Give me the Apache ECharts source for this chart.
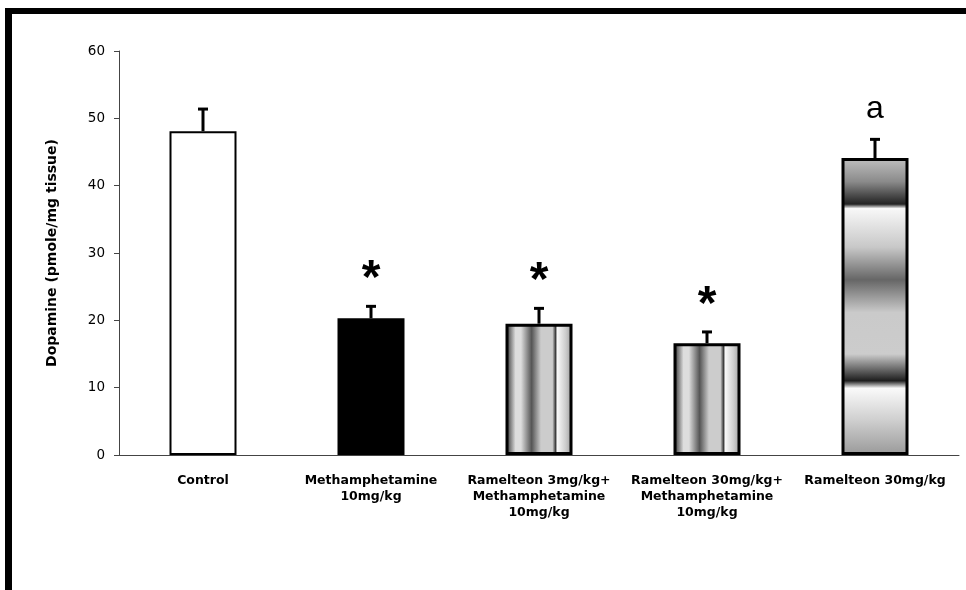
<!DOCTYPE html>
<html>
<head>
<meta charset="utf-8">
<script src="https://cdn.jsdelivr.net/npm/echarts@6/dist/echarts.min.js"></script>
<style>
  html, body { margin: 0; padding: 0; background: #fff; }
  #chart { width: 966px; height: 590px; }
</style>
</head>
<body>
<div id="chart"></div>
<script>
var categories = [
  'Control',
  'Methamphetamine\n10mg/kg',
  'Ramelteon 3mg/kg+\nMethamphetamine\n10mg/kg',
  'Ramelteon 30mg/kg+\nMethamphetamine\n10mg/kg',
  'Ramelteon 30mg/kg'
]
var means = [48.1, 20.3, 19.5, 16.6, 44.1]
var errors = [3.5, 2.0, 2.5, 1.9, 3.0]
var marks = ['', '*', '*', '*', 'a']
var yTicks = [0, 10, 20, 30, 40, 50, 60]

// bar fills, as in the original figure
var stripes = new echarts.graphic.LinearGradient(0, 0, 1, 0, [
  { offset: 0, color: '#444' },
  { offset: 0.04, color: '#555' },
  { offset: 0.15, color: '#ddd' },
  { offset: 0.23, color: '#ddd' },
  { offset: 0.39, color: '#555' },
  { offset: 0.53, color: '#ccc' },
  { offset: 0.70, color: '#ccc' },
  { offset: 0.75, color: '#333' },
  { offset: 0.77, color: '#fafafa' },
  { offset: 0.90, color: '#ccc' },
  { offset: 1, color: '#999' }
])
var bands = new echarts.graphic.LinearGradient(0, 0, 0, 1, [
  { offset: 0, color: '#c0c0c0' },
  { offset: 0.08, color: '#8a8a8a' },
  { offset: 0.155, color: '#222' },
  { offset: 0.17, color: '#f8f8f8' },
  { offset: 0.30, color: '#c8c8c8' },
  { offset: 0.41, color: '#666' },
  { offset: 0.52, color: '#cacaca' },
  { offset: 0.66, color: '#ccc' },
  { offset: 0.75, color: '#1e1e1e' },
  { offset: 0.775, color: '#fafafa' },
  { offset: 0.88, color: '#d0d0d0' },
  { offset: 1, color: '#999' }
])
var fills = ['#fff', '#000', stripes, stripes, bands]
var borders = [2, 3, 3, 3, 3]

var chart = echarts.init(document.getElementById('chart'))

var barData = means.map(function (v, i) {
  return { value: v, itemStyle: { color: fills[i], borderColor: '#000', borderWidth: borders[i] } }
})
var errData = means.map(function (v, i) {
  return [i, v, v + errors[i], marks[i]]
})

chart.setOption({
  animation: false,
  backgroundColor: '#fff',
  graphic: [
    { type: 'rect', left: 5, top: 8, shape: { width: 961, height: 6 }, style: { fill: '#000' } },
    { type: 'rect', left: 5, top: 8, shape: { width: 7, height: 582 }, style: { fill: '#000' } }
  ],
  grid: { left: 119, right: 7, top: 51, bottom: 135 },
  xAxis: {
    type: 'category',
    data: categories,
    axisLine: { lineStyle: { color: '#444', width: 1 } },
    axisTick: { length: 5, lineStyle: { color: '#444' } },
    axisLabel: {
      interval: 0,
      margin: 18,
      color: '#000',
      fontFamily: 'DejaVu Sans',
      fontWeight: 'bold',
      fontSize: 12.5,
      lineHeight: 16
    }
  },
  yAxis: {
    type: 'value',
    min: yTicks[0],
    max: yTicks[yTicks.length - 1],
    interval: 10,
    name: 'Dopamine (pmole/mg tissue)',
    nameLocation: 'middle',
    nameGap: 60,
    nameTextStyle: { fontFamily: 'DejaVu Sans', fontWeight: 'bold', fontSize: 14, color: '#000' },
    splitLine: { show: false },
    axisLine: { show: true, lineStyle: { color: '#444', width: 1 } },
    axisTick: { show: true, length: 5, lineStyle: { color: '#444' } },
    axisLabel: { margin: 14, color: '#000', fontFamily: 'DejaVu Sans', fontSize: 13.5 }
  },
  series: [
    {
      type: 'bar',
      data: barData,
      barWidth: 67
    },
    {
      type: 'custom',
      data: errData,
      z: 5,
      renderItem: function (params, api) {
        var x = api.coord([api.value(0), api.value(1)])
        var top = api.coord([api.value(0), api.value(2)])
        var mark = api.value(3)
        var kids = [
          { type: 'line', shape: { x1: x[0], y1: x[1], x2: top[0], y2: top[1] + 1 }, style: { stroke: '#000', lineWidth: 3 } },
          { type: 'rect', shape: { x: top[0] - 5, y: top[1], width: 10, height: 3 }, style: { fill: '#000' } }
        ]
        if (mark === '*') {
          kids.push({ type: 'text', x: top[0], y: top[1] - 25, style: { text: '*', fill: '#000', font: 'bold 48px "Liberation Sans"', align: 'center', verticalAlign: 'middle' } })
        } else if (mark) {
          kids.push({ type: 'text', x: top[0], y: top[1] - 29, style: { text: mark, fill: '#000', font: '32px "Liberation Sans"', align: 'center', verticalAlign: 'middle' } })
        }
        return { type: 'group', children: kids }
      }
    }
  ]
})
</script>
</body>
</html>
